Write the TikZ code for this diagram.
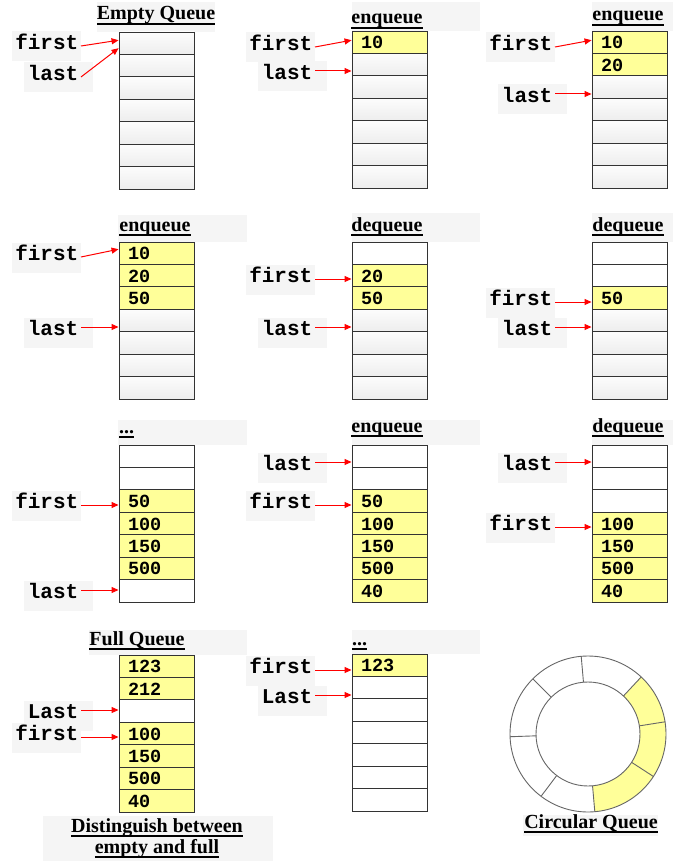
\documentclass[tikz,border=0pt]{standalone}
\usepackage{fontspec}
\setmainfont{Liberation Serif}
\setmonofont{Liberation Mono}
\usetikzlibrary{arrows.meta,backgrounds}
\definecolor{qyellow}{HTML}{FFFF99}
\newcommand\ulined[1]{\setbox0\hbox{#1}\rlap{\rule[-5pt]{\wd0}{1.6pt}}\box0}

\tikzset{
  qcell/.style={draw=black!80, line width=0.9pt, minimum height=22.43pt,
    inner ysep=0pt, inner xsep=9pt, text width=57pt, align=left,
    text height=13pt, text depth=0pt,
    font=\ttfamily\bfseries\fontsize{18.5}{20}\selectfont},
  qe/.style={top color=black!1, bottom color=black!7},
  qw/.style={fill=white},
  qy/.style={fill=qyellow},
  ptrlbl/.style={anchor=east, inner xsep=2.5pt, inner ysep=0pt,
    text height=13pt, text depth=6pt,
    font=\ttfamily\bfseries\fontsize{21}{24}\selectfont},
  ptrhi/.style={ptrlbl, text height=17pt, text depth=0pt},
  ttl/.style={anchor=base, inner sep=0pt, font=\bfseries\fontsize{20}{24}\selectfont},
  ptr/.style={red, line width=1pt, -{Triangle[length=7pt,width=6pt]}},
  bgbox/.style={fill=black!4},
  ring/.style={draw=black!60, line width=0.9pt}
}

\begin{document}
\begin{tikzpicture}[x=1pt,y=-1pt]
\useasboundingbox (0,0) rectangle (673,861);

% row 1: empty queue, two enqueues
\node[ttl] (t11) at (156,20) {\ulined{Empty Queue}};
\foreach \s/\v [count=\i] in {qe/{},qe/{},qe/{},qe/{},qe/{},qe/{},qe/{}}
  \node[qcell,\s] (p11-\i) at (156.5,{32+(\i-0.5)*22.43}) {\v};
\node[ptrlbl] (p11f) at (81,46) {first};
\node[ptrlbl] (p11l) at (81,77) {last};
\draw[ptr] (p11f.east) -- ([yshift=3pt]p11-1.west);
\draw[ptr] (p11l.east) -- ([yshift=-5pt]p11-1.west);

\node[ttl] (t12) at (387,24) {\ulined{enqueue}};
\foreach \s/\v [count=\i] in {qy/10,qe/{},qe/{},qe/{},qe/{},qe/{},qe/{}}
  \node[qcell,\s] (p12-\i) at (389.5,{31+(\i-0.5)*22.43}) {\v};
\node[ptrlbl] (p12f) at (315,47) {first};
\node[ptrhi] (p12l) at (315,71) {last};
\draw[ptr] (p12f.east) -- ([yshift=2pt]p12-1.west);
\draw[ptr] (p12l.east) -- (p12l.east -| p12-2.west);

\node[ttl] (t13) at (628,21) {\ulined{enqueue}};
\foreach \s/\v [count=\i] in {qy/10,qy/20,qe/{},qe/{},qe/{},qe/{},qe/{}}
  \node[qcell,\s] (p13-\i) at (629.5,{31+(\i-0.5)*22.43}) {\v};
\node[ptrlbl] (p13f) at (555,47) {first};
\node[ptrhi] (p13l) at (555,94) {last};
\draw[ptr] (p13f.east) -- ([yshift=2pt]p13-1.west);
\draw[ptr] (p13l.east) -- (p13l.east -| p13-3.west);

% row 2: enqueue, two dequeues
\node[ttl] (t21) at (155,231) {\ulined{enqueue}};
\foreach \s/\v [count=\i] in {qy/10,qy/20,qy/50,qe/{},qe/{},qe/{},qe/{}}
  \node[qcell,\s] (p21-\i) at (156.5,{242+(\i-0.5)*22.43}) {\v};
\node[ptrlbl] (p21f) at (81,257) {first};
\node[ptrhi] (p21l) at (81,327) {last};
\draw[ptr] (p21f.east) -- ([yshift=4pt]p21-1.west);
\draw[ptr] (p21l.east) -- (p21l.east -| p21-4.west);

\node[ttl] (t22) at (387,231) {\ulined{dequeue}};
\foreach \s/\v [count=\i] in {qw/{},qy/20,qy/50,qe/{},qe/{},qe/{},qe/{}}
  \node[qcell,\s] (p22-\i) at (389.5,{242+(\i-0.5)*22.43}) {\v};
\node[ptrlbl] (p22f) at (315,279) {first};
\node[ptrhi] (p22l) at (315,327) {last};
\draw[ptr] (p22f.east) -- (p22f.east -| p22-2.west);
\draw[ptr] (p22l.east) -- (p22l.east -| p22-4.west);

\node[ttl] (t23) at (628,231) {\ulined{dequeue}};
\foreach \s/\v [count=\i] in {qw/{},qw/{},qy/50,qe/{},qe/{},qe/{},qe/{}}
  \node[qcell,\s] (p23-\i) at (629.5,{242+(\i-0.5)*22.43}) {\v};
\node[ptrlbl] (p23f) at (555,302) {first};
\node[ptrhi] (p23l) at (555,327) {last};
\draw[ptr] (p23f.east) -- (p23f.east -| p23-3.west);
\draw[ptr] (p23l.east) -- (p23l.east -| p23-4.west);

% row 3: last wraps round to the top
\node[ttl, anchor=base west] (t31) at (119,433) {\ulined{...}};
\foreach \s/\v [count=\i] in {qw/{},qw/{},qy/50,qy/100,qy/150,qy/500,qw/{}}
  \node[qcell,\s] (p31-\i) at (156.5,{445+(\i-0.5)*22.43}) {\v};
\node[ptrlbl] (p31f) at (81,505) {first};
\node[ptrhi] (p31l) at (81,590) {last};
\draw[ptr] (p31f.east) -- (p31f.east -| p31-3.west);
\draw[ptr] (p31l.east) -- (p31l.east -| p31-7.west);

\node[ttl] (t32) at (387,432) {\ulined{enqueue}};
\foreach \s/\v [count=\i] in {qw/{},qw/{},qy/50,qy/100,qy/150,qy/500,qy/40}
  \node[qcell,\s] (p32-\i) at (389.5,{445+(\i-0.5)*22.43}) {\v};
\node[ptrhi] (p32l) at (315,462) {last};
\node[ptrlbl] (p32f) at (315,505) {first};
\draw[ptr] (p32l.east) -- (p32l.east -| p32-1.west);
\draw[ptr] (p32f.east) -- (p32f.east -| p32-3.west);

\node[ttl] (t33) at (628,432) {\ulined{dequeue}};
\foreach \s/\v [count=\i] in {qw/{},qw/{},qw/{},qy/100,qy/150,qy/500,qy/40}
  \node[qcell,\s] (p33-\i) at (629.5,{445+(\i-0.5)*22.43}) {\v};
\node[ptrhi] (p33l) at (555,462) {last};
\node[ptrlbl] (p33f) at (555,527) {first};
\draw[ptr] (p33l.east) -- (p33l.east -| p33-1.west);
\draw[ptr] (p33f.east) -- (p33f.east -| p33-4.west);

% row 4: full queue, circular queue
\node[ttl] (t41) at (137,645) {\ulined{Full Queue}};
\foreach \s/\v [count=\i] in {qy/123,qy/212,qw/{},qy/100,qy/150,qy/500,qy/40}
  \node[qcell,\s] (p41-\i) at (156.5,{655+(\i-0.5)*22.43}) {\v};
\node[ptrhi] (p41l) at (81,710) {Last};
\node[ptrlbl] (p41f) at (81,737) {first};
\draw[ptr] (p41l.east) -- (p41l.east -| p41-3.west);
\draw[ptr] (p41f.east) -- (p41f.east -| p41-4.west);
\node[ttl] (cap1) at (157,832) {\ulined{Distinguish between}};
\node[ttl] (cap2) at (157,853) {\ulined{empty and full}};

\node[ttl, anchor=base west] (t42) at (352,645) {\ulined{...}};
\foreach \s/\v [count=\i] in {qy/123,qw/{},qw/{},qw/{},qw/{},qw/{},qw/{}}
  \node[qcell,\s] (p42-\i) at (389.5,{654+(\i-0.5)*22.43}) {\v};
\node[ptrlbl] (p42f) at (315,670) {first};
\node[ptrhi] (p42l) at (315,695) {Last};
\draw[ptr] (p42f.east) -- (p42f.east -| p42-1.west);
\draw[ptr] (p42l.east) -- (p42l.east -| p42-2.west);

\begin{scope}[shift={(588,734)},yscale=-1]
  \foreach \a/\b in {275/327,327/369,369/407}
    \fill[qyellow] (\a:52) arc[start angle=\a,end angle=\b,radius=52]
      -- (\b:78) arc[start angle=\b,end angle=\a,radius=78] -- cycle;
  \draw[ring] (0,0) circle[radius=78];
  \draw[ring] (0,0) circle[radius=52];
  \foreach \a in {9,47,95,135,182,233,275,327}
    \draw[ring] (\a:52) -- (\a:78);
\end{scope}
\node[ttl] (cap3) at (591,828) {\ulined{Circular Queue}};

% faint text-box backgrounds
\begin{scope}[on background layer]
  \foreach \n in {p11f,p11l,p12f,p12l,p13f,p13l,p21f,p21l,p22f,p22l,p23f,p23l,
                  p31f,p31l,p32f,p32l,p33f,p33l,p41f,p41l,p42f,p42l}
    \fill[bgbox] ([shift={(-1,-18)}]\n.base west) rectangle ++(69,30);
  \foreach \a/\b/\c/\d in {97/2/215/32,352/2/480/31,592/2/673/31,
      118/215/247/242,352/213/480/242,592/213/673/242,
      118/420/247/445,352/420/480/445,592/420/673/445,
      89/630/247/655,352/630/480/654,43/816/273/861,523/815/658/836}
    \fill[bgbox] (\a,\b) rectangle (\c,\d);
\end{scope}
\end{tikzpicture}
\end{document}
